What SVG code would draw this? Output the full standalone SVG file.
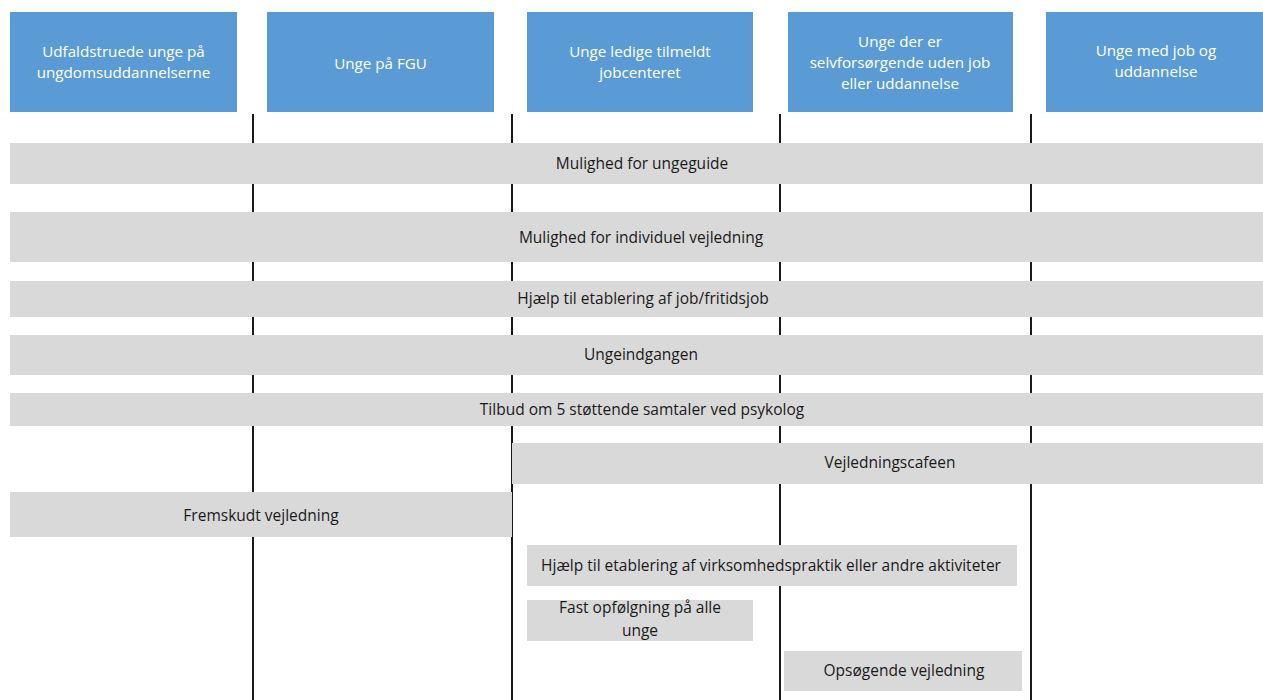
<svg xmlns="http://www.w3.org/2000/svg" width="1263" height="700" viewBox="0 0 1263 700">
<style>
.hdr{fill:#5B9BD5}
.bar{fill:#D9D9D9}
.ht{font-family:"Open Sans","Liberation Sans",sans-serif;font-size:15.2px;fill:#fff;text-anchor:middle}
.bt{font-family:"Open Sans","Liberation Sans",sans-serif;font-size:15.5px;fill:#1a1a1a;text-anchor:middle}
.ln{stroke:#1a1a1a;stroke-width:2;fill:none}
</style>
<rect width="1263" height="700" fill="#fff"/>
<g id="connectors">
<line class="ln" x1="253" y1="114" x2="253" y2="700"/>
<line class="ln" x1="512" y1="114" x2="512" y2="700"/>
<line class="ln" x1="780" y1="114" x2="780" y2="700"/>
<line class="ln" x1="1031" y1="114" x2="1031" y2="700"/>
</g>
<g id="h1"><rect class="hdr" x="10" y="12" width="227" height="100"/><text class="ht" x="123.5" y="57">Udfaldstruede unge på</text><text class="ht" x="123.5" y="78">ungdomsuddannelserne</text></g>
<g id="h2"><rect class="hdr" x="267" y="12" width="227" height="100"/><text class="ht" x="380.5" y="69">Unge på FGU</text></g>
<g id="h3"><rect class="hdr" x="527" y="12" width="226" height="100"/><text class="ht" x="640" y="57">Unge ledige tilmeldt</text><text class="ht" x="640" y="78">jobcenteret</text></g>
<g id="h4"><rect class="hdr" x="788" y="12" width="225" height="100"/><text class="ht" x="900" y="47">Unge der er</text><text class="ht" x="900" y="68">selvforsørgende uden job</text><text class="ht" x="900" y="89">eller uddannelse</text></g>
<g id="h5"><rect class="hdr" x="1046" y="12" width="217" height="100"/><text class="ht" x="1156" y="56">Unge med job og</text><text class="ht" x="1156" y="77">uddannelse</text></g>
<g id="b1"><rect class="bar" x="10" y="143" width="1253" height="41"/><text class="bt" x="642" y="169">Mulighed for ungeguide</text></g>
<g id="b2"><rect class="bar" x="10" y="212" width="1253" height="50"/><text class="bt" x="641" y="243">Mulighed for individuel vejledning</text></g>
<g id="b3"><rect class="bar" x="10" y="281" width="1253" height="36"/><text class="bt" x="643" y="304">Hjælp til etablering af job/fritidsjob</text></g>
<g id="b4"><rect class="bar" x="10" y="335" width="1253" height="40"/><text class="bt" x="641" y="360">Ungeindgangen</text></g>
<g id="b5"><rect class="bar" x="10" y="393" width="1253" height="33"/><text class="bt" x="642" y="415">Tilbud om 5 støttende samtaler ved psykolog</text></g>
<g id="b6"><rect class="bar" x="512" y="443" width="751" height="41"/><text class="bt" x="890" y="468">Vejledningscafeen</text></g>
<g id="b7"><rect class="bar" x="10" y="492" width="502" height="45"/><text class="bt" x="261" y="521">Fremskudt vejledning</text></g>
<g id="b8"><rect class="bar" x="527" y="545" width="490" height="41"/><text class="bt" x="771" y="571">Hjælp til etablering af virksomhedspraktik eller andre aktiviteter</text></g>
<g id="b9"><rect class="bar" x="527" y="600" width="226" height="41"/><text class="bt" x="640" y="613">Fast opfølgning på alle</text><text class="bt" x="640" y="636">unge</text></g>
<g id="b10"><rect class="bar" x="784" y="651" width="238" height="40"/><text class="bt" x="904" y="676">Opsøgende vejledning</text></g>
</svg>
